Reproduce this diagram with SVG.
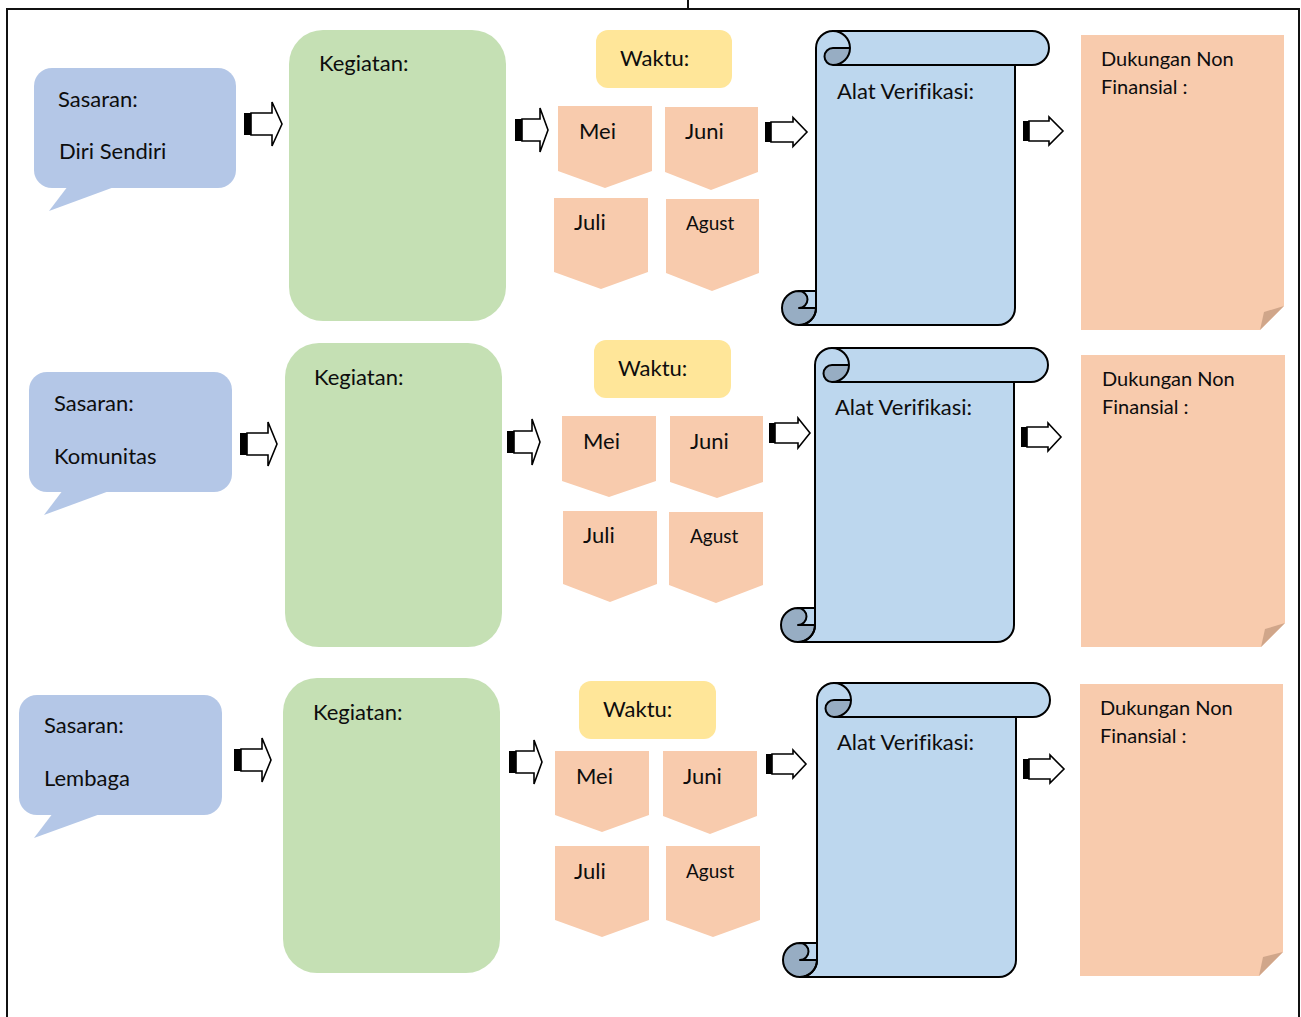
<svg xmlns="http://www.w3.org/2000/svg" xmlns:xlink="http://www.w3.org/1999/xlink" width="1301" height="1017" viewBox="0 0 1301 1017">
<style>
text{font-family:Lato,"Open Sans","Liberation Sans",sans-serif;fill:#0d0d0d;font-variant-ligatures:none;font-feature-settings:"liga" 0;}
.t{font-size:22px;}
.s{font-size:19px;}
.n{font-size:20px;}
.bub{fill:#b4c7e7;}
.keg{fill:#c5e0b4;}
.wak{fill:#ffe699;}
.mon{fill:#f8cbad;}
.note{fill:#f8cbad;}
.fold{fill:#d0a68a;}
.arr{fill:#fff;stroke:#000;stroke-width:1.6;stroke-linejoin:miter;}
.bar{fill:#000;}
.frame{fill:none;stroke:#111;stroke-width:2;}
.sl{fill:#bdd7ee;}
.sd{fill:#97adc3;}
.so{fill:none;stroke:#000;stroke-width:2;stroke-linejoin:round;}
</style>
<defs>
<g id="scroll">
<path class="sl" d="M17,294 L216,294 A17,17 0 0 0 233,277 L233,34 L250,34 A17,17 0 0 0 250,0 L51,0 A17,17 0 0 0 34,17 L34,277 A17,17 0 0 1 17,294 Z"/>
<circle class="sd" cx="17" cy="277" r="17"/>
<path class="sl" d="M17,260 L34,260 L34,277 L17,277 A8.5,8.5 0 0 0 17,260 Z"/>
<path class="sd" d="M51,17 L68,17 A17,17 0 0 1 51,34 A8.5,8.5 0 0 1 51,17 Z"/>
<path class="so" d="M17,294 L216,294 A17,17 0 0 0 233,277 L233,34 L250,34 A17,17 0 0 0 250,0 L51,0 A17,17 0 0 0 34,17 L34,277 A17,17 0 0 1 17,294"/>
<path class="so" d="M17,260 A17,17 0 1 0 34,277 M17,260 L34,260 M34,277 L17,277 A8.5,8.5 0 0 0 17,260"/>
<path class="so" d="M51,0 A17,17 0 0 1 68,17 A17,17 0 0 1 51,34 L233,34 M51,17 L68,17 M51,34 A8.5,8.5 0 0 1 51,17"/>
</g>
</defs>
<rect width="1301" height="1017" fill="#fff"/>
<g id="frame">
<path class="frame" d="M7,1017 L7,9 L1299,9 L1299,1017"/>
<line x1="688" y1="0" x2="688" y2="9" stroke="#111" stroke-width="2"/>
</g>

<!-- Row 1 -->
<g id="sasaran1">
<rect class="bub" x="34" y="68" width="202" height="120" rx="18"/>
<polygon class="bub" points="68,186 117,186 49,211"/>
<text class="t" x="58" y="107">Sasaran:</text>
<text class="t" x="59" y="159">Diri Sendiri</text>
</g>
<g id="kegiatan1">
<rect class="keg" x="289" y="30" width="217" height="291" rx="34"/>
<text class="t" x="319" y="71">Kegiatan:</text>
</g>
<g id="waktu1">
<rect class="wak" x="596" y="30" width="136" height="58" rx="12"/>
<text class="t" x="620" y="66">Waktu:</text>
</g>
<g id="mei1"><polygon class="mon" points="558,106 652,106 652,171 605,188 558,171"/><text class="t" x="579" y="139">Mei</text></g>
<g id="juni1"><polygon class="mon" points="665,107 758,107 758,172 711,190 665,172"/><text class="t" x="685" y="139">Juni</text></g>
<g id="juli1"><polygon class="mon" points="554,198 648,198 648,272 601,289 554,272"/><text class="t" x="574" y="230">Juli</text></g>
<g id="agust1"><polygon class="mon" points="666,199 759,199 759,273 712,291 666,273"/><text class="s" x="686" y="230">Agust</text></g>
<g id="verifikasi1">
<use xlink:href="#scroll" href="#scroll" transform="translate(782,31)"/>
<text class="t" x="837" y="99">Alat Verifikasi:</text>
</g>
<g id="dukungan1">
<path class="note" d="M1081,35 L1284,35 L1284,306 L1260,330 L1081,330 Z"/>
<polygon class="fold" points="1284,306 1264,312 1260,330"/>
<text class="n" x="1101" y="66">Dukungan Non</text>
<text class="n" x="1101" y="94">Finansial :</text>
</g>

<!-- Row 2 -->
<g id="sasaran2">
<rect class="bub" x="29" y="372" width="203" height="120" rx="18"/>
<polygon class="bub" points="63,490 112,490 44,515"/>
<text class="t" x="54" y="411">Sasaran:</text>
<text class="t" x="54" y="464">Komunitas</text>
</g>
<g id="kegiatan2">
<rect class="keg" x="285" y="343" width="217" height="304" rx="34"/>
<text class="t" x="314" y="385">Kegiatan:</text>
</g>
<g id="waktu2">
<rect class="wak" x="594" y="340" width="137" height="58" rx="12"/>
<text class="t" x="618" y="376">Waktu:</text>
</g>
<g id="mei2"><polygon class="mon" points="562,416 656,416 656,481 609,497 562,481"/><text class="t" x="583" y="449">Mei</text></g>
<g id="juni2"><polygon class="mon" points="670,416 763,416 763,482 717,498 670,482"/><text class="t" x="690" y="449">Juni</text></g>
<g id="juli2"><polygon class="mon" points="563,511 657,511 657,584 610,602 563,584"/><text class="t" x="583" y="543">Juli</text></g>
<g id="agust2"><polygon class="mon" points="669,512 763,512 763,585 716,603 669,585"/><text class="s" x="690" y="543">Agust</text></g>
<g id="verifikasi2">
<use xlink:href="#scroll" href="#scroll" transform="translate(781,348)"/>
<text class="t" x="835" y="415">Alat Verifikasi:</text>
</g>
<g id="dukungan2">
<path class="note" d="M1081,355 L1285,355 L1285,623 L1261,647 L1081,647 Z"/>
<polygon class="fold" points="1285,623 1265,629 1261,647"/>
<text class="n" x="1102" y="386">Dukungan Non</text>
<text class="n" x="1102" y="414">Finansial :</text>
</g>

<!-- Row 3 -->
<g id="sasaran3">
<rect class="bub" x="19" y="695" width="203" height="120" rx="18"/>
<polygon class="bub" points="53,813 103,813 34,838"/>
<text class="t" x="44" y="733">Sasaran:</text>
<text class="t" x="44" y="786">Lembaga</text>
</g>
<g id="kegiatan3">
<rect class="keg" x="283" y="678" width="217" height="295" rx="34"/>
<text class="t" x="313" y="720">Kegiatan:</text>
</g>
<g id="waktu3">
<rect class="wak" x="579" y="681" width="137" height="58" rx="12"/>
<text class="t" x="603" y="717">Waktu:</text>
</g>
<g id="mei3"><polygon class="mon" points="555,751 649,751 649,815 602,832 555,815"/><text class="t" x="576" y="784">Mei</text></g>
<g id="juni3"><polygon class="mon" points="663,751 757,751 757,816 710,834 663,816"/><text class="t" x="683" y="784">Juni</text></g>
<g id="juli3"><polygon class="mon" points="555,846 649,846 649,920 602,937 555,920"/><text class="t" x="574" y="879">Juli</text></g>
<g id="agust3"><polygon class="mon" points="666,846 760,846 760,920 713,937 666,920"/><text class="s" x="686" y="878">Agust</text></g>
<g id="verifikasi3">
<use xlink:href="#scroll" href="#scroll" transform="translate(783,683)"/>
<text class="t" x="837" y="750">Alat Verifikasi:</text>
</g>
<g id="dukungan3">
<path class="note" d="M1080,684 L1283,684 L1283,952 L1259,976 L1080,976 Z"/>
<polygon class="fold" points="1283,952 1263,957 1259,976"/>
<text class="n" x="1100" y="715">Dukungan Non</text>
<text class="n" x="1100" y="743">Finansial :</text>
</g>

<!-- Connectors: striped block arrows -->
<g id="connectors">
<!-- row 1 -->
<rect class="bar" x="244" y="113" width="7" height="22"/>
<path class="arr" d="M251,113 L272,113 L272,102 L282,124 L272,146 L272,135 L251,135 Z"/>
<rect class="bar" x="515" y="119" width="7" height="22"/>
<path class="arr" d="M522,119 L540,119 L540,108 L548,130 L540,152 L540,141 L522,141 Z"/>
<rect class="bar" x="765" y="122" width="6" height="20"/>
<path class="arr" d="M771,122 L793,122 L793,117.5 L807,132 L793,146.5 L793,142 L771,142 Z"/>
<rect class="bar" x="1023" y="121" width="6" height="20"/>
<path class="arr" d="M1029,121 L1049,121 L1049,117 L1063,131 L1049,145 L1049,141 L1029,141 Z"/>
<!-- row 2 -->
<rect class="bar" x="240" y="433" width="7" height="22"/>
<path class="arr" d="M247,433 L268,433 L268,422 L277,444 L268,466 L268,455 L247,455 Z"/>
<rect class="bar" x="507" y="431" width="7" height="22"/>
<path class="arr" d="M514,431 L532,431 L532,419 L540,442 L532,465 L532,453 L514,453 Z"/>
<rect class="bar" x="769" y="423" width="6" height="20"/>
<path class="arr" d="M775,423 L798,423 L798,418 L810,433 L798,448 L798,443 L775,443 Z"/>
<rect class="bar" x="1021" y="427" width="6" height="20"/>
<path class="arr" d="M1027,427 L1048,427 L1048,423 L1061,437 L1048,451 L1048,447 L1027,447 Z"/>
<!-- row 3 -->
<rect class="bar" x="234" y="749" width="7" height="22"/>
<path class="arr" d="M241,749 L262,749 L262,738 L271,760 L262,782 L262,771 L241,771 Z"/>
<rect class="bar" x="509" y="751" width="7" height="22"/>
<path class="arr" d="M516,751 L534,751 L534,740 L542,762 L534,784 L534,773 L516,773 Z"/>
<rect class="bar" x="766" y="754" width="6" height="20"/>
<path class="arr" d="M772,754 L793,754 L793,750 L806,764 L793,778 L793,774 L772,774 Z"/>
<rect class="bar" x="1023" y="759" width="6" height="20"/>
<path class="arr" d="M1029,759 L1050,759 L1050,755 L1064,769 L1050,783 L1050,779 L1029,779 Z"/>
</g>
</svg>
